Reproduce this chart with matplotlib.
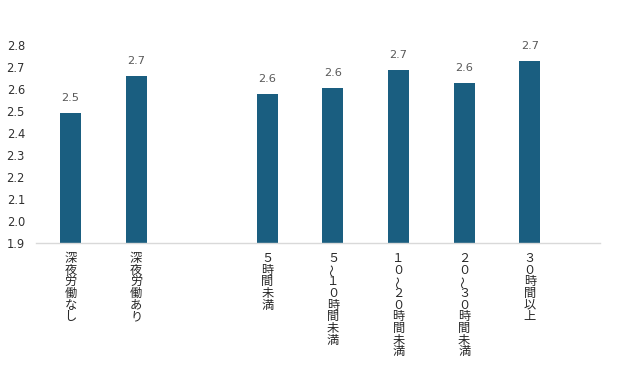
import matplotlib
matplotlib.use("Agg")
import matplotlib.pyplot as plt
import matplotlib.transforms as mtransforms

plt.rcParams['font.family'] = ['Noto Sans CJK JP', 'DejaVu Sans']

categories = ["深夜労働なし", "深夜労働あり", "", "５時間未満", "５～１０時間未満",
              "１０～２０時間未満", "２０～３０時間未満", "３０時間以上"]
values = [2.49, 2.66, None, 2.575, 2.603, 2.686, 2.626, 2.727]
value_labels = ["2.5", "2.7", "", "2.6", "2.6", "2.7", "2.6", "2.7"]
yticks = [1.9, 2.0, 2.1, 2.2, 2.3, 2.4, 2.5, 2.6, 2.7, 2.8]

bar_color = "#1a5e80"

fig = plt.figure(figsize=(6.37, 3.68), dpi=100)
ax = fig.add_axes([36/637, 1-243/368, (600-36)/637, (243-45)/368])

xs = [i for i, v in enumerate(values) if v is not None]
vs = [v for v in values if v is not None]
ax.bar(xs, [v - 1.9 for v in vs], bottom=1.9, width=0.32, color=bar_color, zorder=2)

for x, v, lab in zip(range(len(values)), values, value_labels):
    if v is None:
        continue
    ax.annotate(lab, (x, v), xytext=(0, 11), textcoords='offset points',
                ha='center', va='center', fontsize=8.2, color='#595959',
                family='DejaVu Sans', annotation_clip=False)

ax.set_xlim(-0.526, 8.07)
ax.set_ylim(1.9, 2.8)
ax.set_yticks(yticks)
ax.set_yticklabels([f"{t:.1f}" for t in yticks], fontsize=8.3, color='#303030',
                   family='DejaVu Sans')
ax.tick_params(axis='y', length=0, pad=8)
ax.set_xticks([])

for s in ['top', 'right', 'left']:
    ax.spines[s].set_visible(False)
ax.spines['bottom'].set_color('#d9d9d9')
ax.spines['bottom'].set_linewidth(1.0)

# vertical (stacked) category labels
trans = mtransforms.blended_transform_factory(ax.transData, ax.transAxes)
pitch = 8.4
for x, lab in enumerate(categories):
    for k, ch in enumerate(lab):
        rot = 90 if ch in "～〜" else 0
        ax.annotate(ch, (x, 0), xycoords=trans,
                    xytext=(0, -11.2 - k * pitch), textcoords='offset points',
                    ha='center', va='center', fontsize=8.8, color='#262626',
                    rotation=rot, annotation_clip=False)

fig.savefig("out.png", dpi=100)
